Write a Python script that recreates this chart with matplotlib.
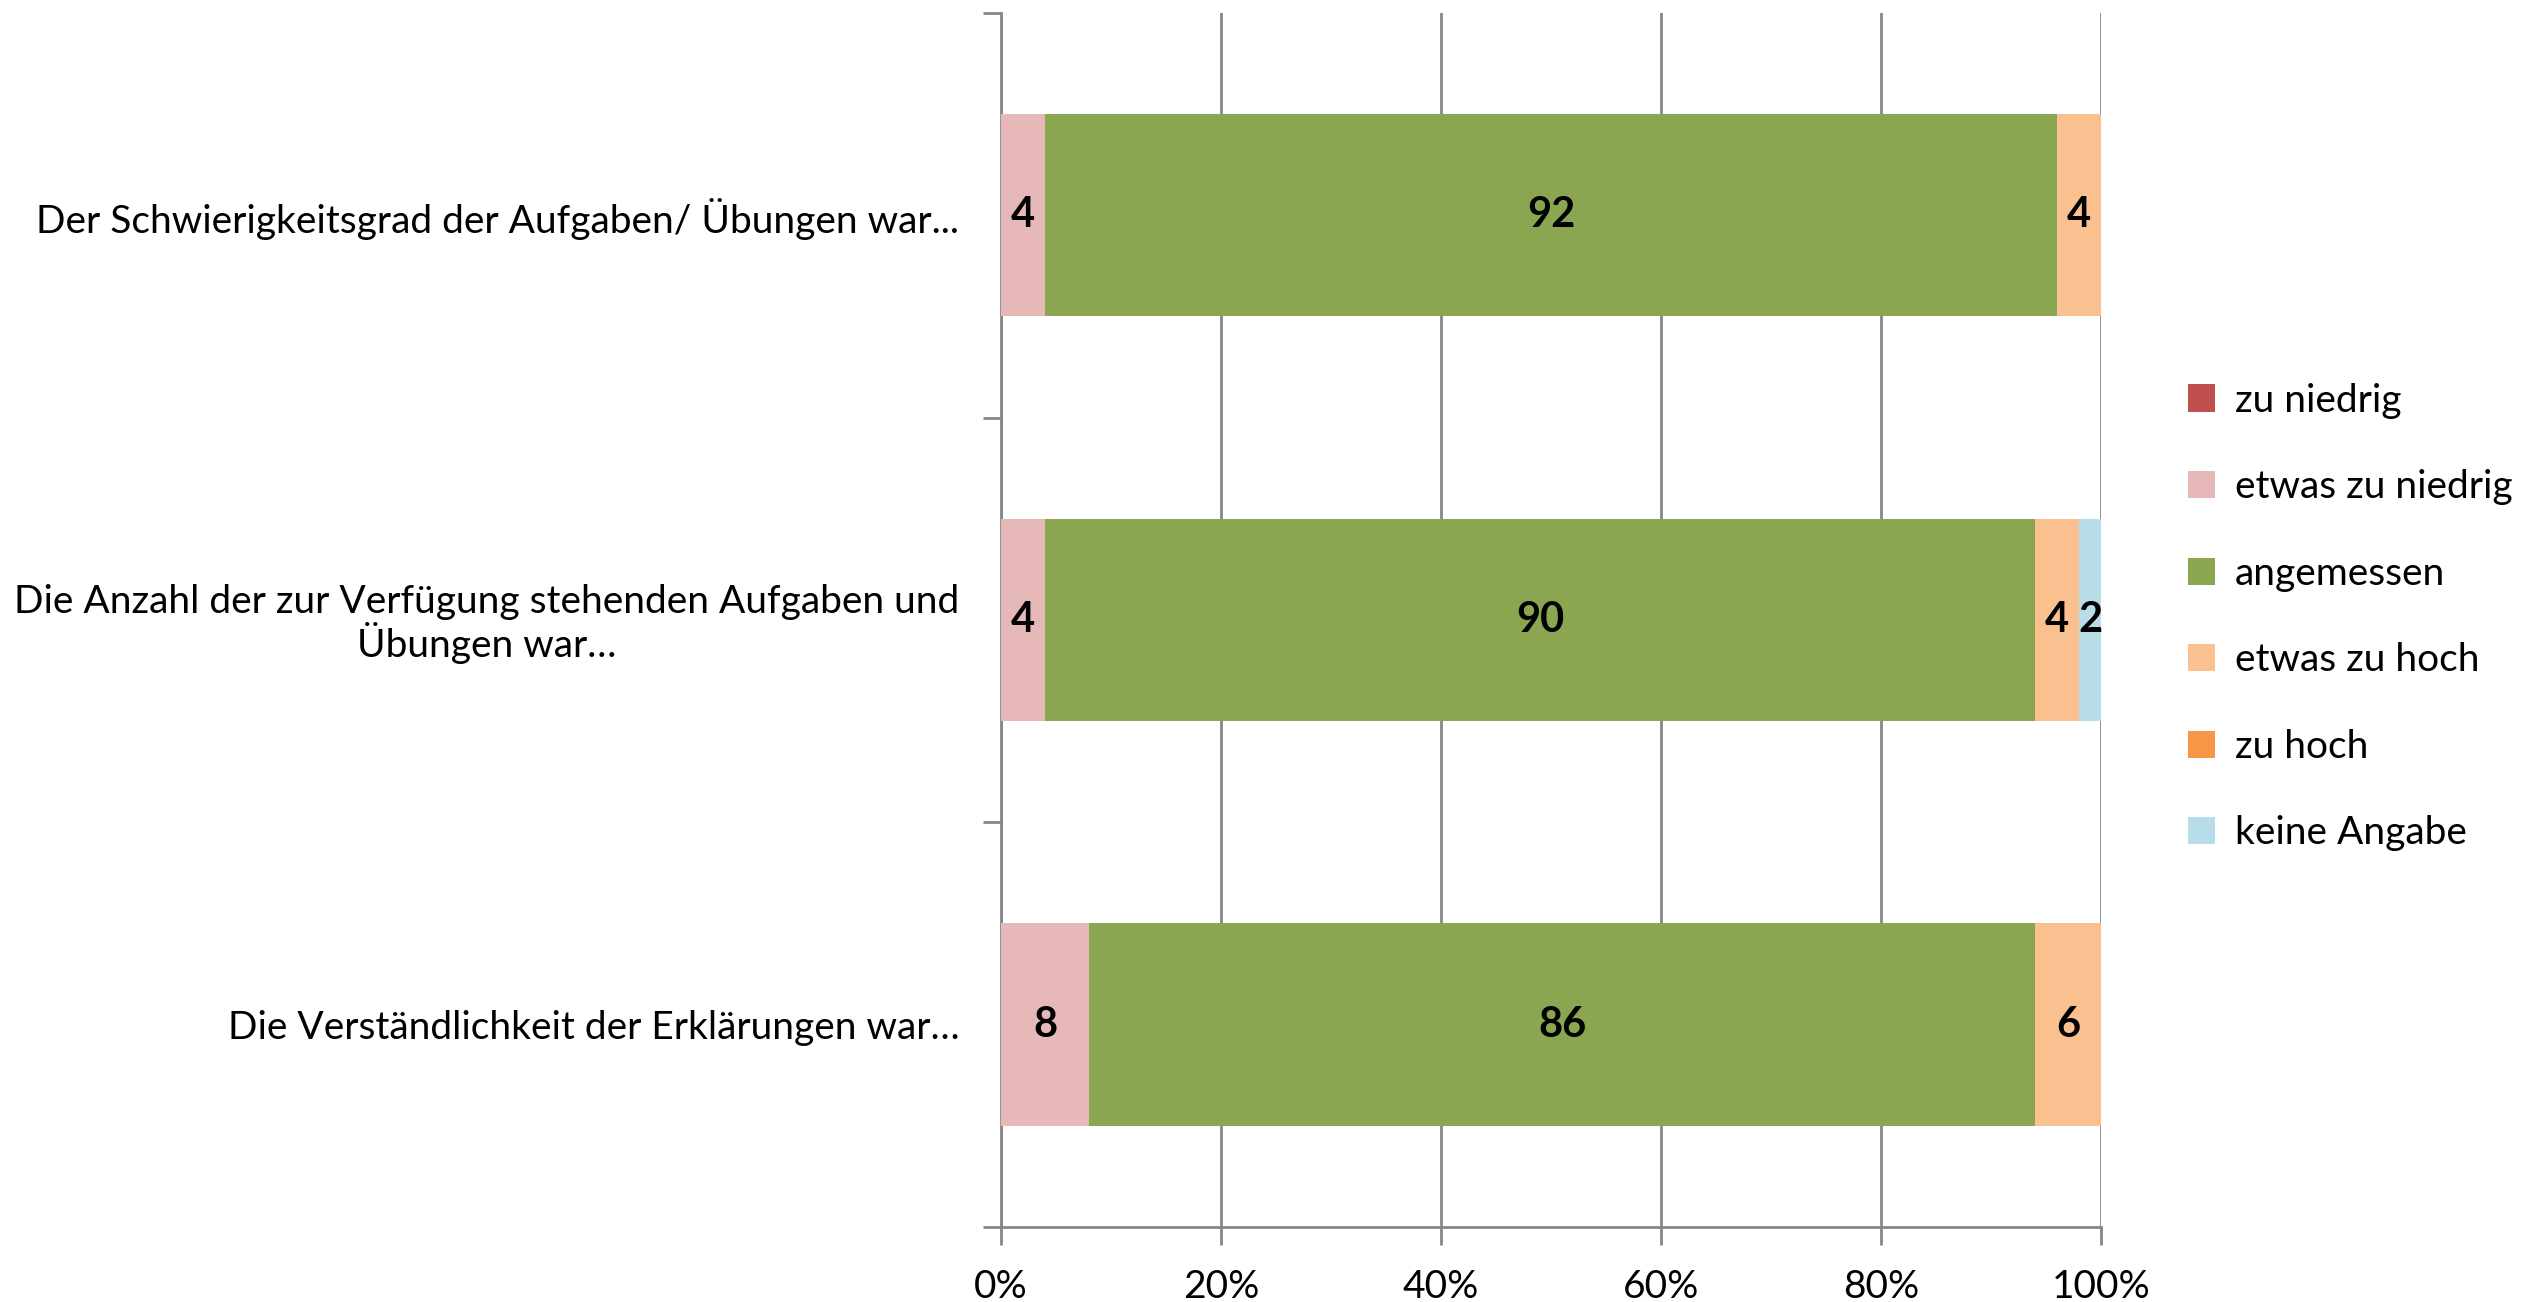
import matplotlib
matplotlib.use("Agg")
import matplotlib.pyplot as plt
import numpy as np

categories = [
    "Der Schwierigkeitsgrad der Aufgaben/ Übungen war...",
    "Die Anzahl der zur Verfügung stehenden Aufgaben und\nÜbungen war…",
    "Die Verständlichkeit der Erklärungen war…",
]
series_names = ["zu niedrig", "etwas zu niedrig", "angemessen", "etwas zu hoch", "zu hoch", "keine Angabe"]
zu_niedrig = [0, 0, 0]
etwas_zu_niedrig = [4, 4, 8]
angemessen = [92, 90, 86]
etwas_zu_hoch = [4, 4, 6]
zu_hoch = [0, 0, 0]
keine_angabe = [0, 2, 0]
xtick_labels = ["0%", "20%", "40%", "60%", "80%", "100%"]

colors = ["#C0504D", "#E6B9B8", "#8BA650", "#FAC090", "#F79646", "#B7DEE8"]
series = [zu_niedrig, etwas_zu_niedrig, angemessen, etwas_zu_hoch, zu_hoch, keine_angabe]

FONT = "Lato"
plt.rcParams["font.family"] = [FONT, "DejaVu Sans"]
GREY = "#868686"
FS = 28

fig = plt.figure(figsize=(25.48, 13.02), dpi=100)
ax = fig.add_axes([1001 / 2548, 1 - 1227 / 1302, 1100 / 2548, (1227 - 13) / 1302])

y = np.arange(len(categories))
left = np.zeros(len(categories))
totals = np.sum(series, axis=0)
handles = []
for name, vals, col in zip(series_names, series, colors):
    vals = np.array(vals, dtype=float)
    pct = vals / totals * 100
    h = ax.barh(y, pct, left=left, height=0.5, color=col, label=name, zorder=3)
    handles.append(h)
    for yi, (l, w, v) in enumerate(zip(left, pct, vals)):
        if v > 0:
            ax.text(l + w / 2, yi, f"{int(v)}", ha="center", va="center",
                    fontsize=30, fontweight="bold", color="black", zorder=4)
    left = left + pct

ax.set_xlim(0, 100)
ax.set_ylim(2.5, -0.5)
ax.set_xticks(np.arange(0, 101, 20))
ax.set_xticklabels(xtick_labels, fontsize=FS)
ax.set_yticks(y)
ax.set_yticklabels(categories, fontsize=FS, ha="right", multialignment="center",
                   linespacing=1.05)
ax.tick_params(axis="y", which="major", length=0, pad=30)
ax.set_yticks([-0.5, 0.5, 1.5, 2.5], minor=True)
ax.tick_params(axis="y", which="minor", length=13, width=2, color=GREY, direction="out")
ax.tick_params(axis="x", which="major", length=13, width=2, color=GREY, direction="out", pad=17)

ax.xaxis.grid(True, color=GREY, linewidth=2, zorder=0)
ax.set_axisbelow(True)
for s in ["top", "right"]:
    ax.spines[s].set_visible(False)
for s in ["left", "bottom"]:
    ax.spines[s].set_color(GREY)
    ax.spines[s].set_linewidth(2)
    ax.spines[s].set_zorder(2)

leg = fig.legend(handles=handles, labels=series_names, loc="center left",
                 bbox_to_anchor=(2153 / 2548, 1 - 617 / 1302), frameon=False,
                 fontsize=FS, handlelength=0.7, handleheight=0.7, handletextpad=0.5,
                 labelspacing=1.3)

fig.savefig("out.png", dpi=100)
